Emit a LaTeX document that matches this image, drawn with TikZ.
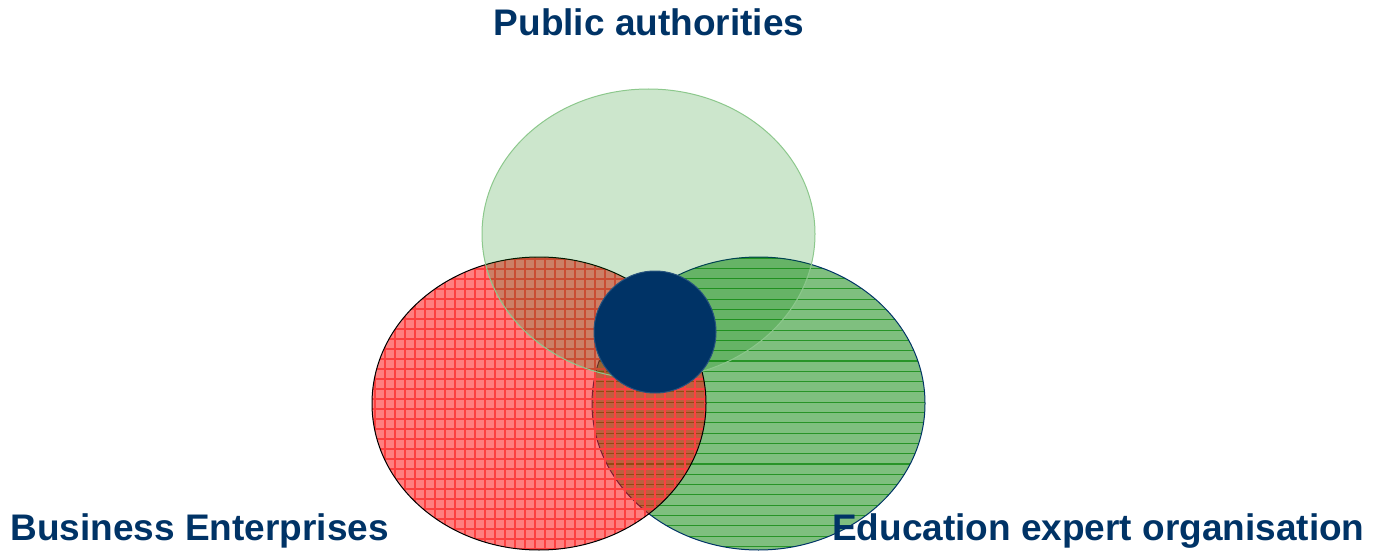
\documentclass[tikz,border=0pt]{standalone}
\usepackage{fontspec}
\setmainfont{Liberation Sans}
\usetikzlibrary{shapes.geometric}
\definecolor{navy}{RGB}{0,51,102}
\definecolor{pgreen}{RGB}{0,128,0}
\definecolor{pred}{RGB}{255,0,0}
\definecolor{redline}{RGB}{252,64,64}
\definecolor{greenline}{RGB}{40,148,40}
\definecolor{topedge}{RGB}{140,200,140}
\begin{document}
\begin{tikzpicture}[x=0.5pt,y=-0.5pt,
  lbl/.style={text=navy, font=\fontsize{18.5}{22}\selectfont\bfseries, inner sep=0pt},
  blob/.style={ellipse, inner sep=0pt, line width=0.5pt},
  hatchline/.style={line width=0.55pt}]
\useasboundingbox (0,0) rectangle (1376,551);
% right ellipse (education)
\node[blob, minimum width=166.5pt, minimum height=146.5pt, fill=pgreen, fill opacity=0.5] (edu) at (758.5,403.5) {};
\begin{scope}
  \clip (edu.center) ellipse [x radius=166.5, y radius=146.5];
  \foreach \yy in {258,268.3,...,552} \draw[hatchline, greenline] (590,\yy) -- (928,\yy);
\end{scope}
\draw[navy, line width=0.5pt] (edu.center) ellipse [x radius=166.5, y radius=146.5];
% left ellipse (business)
\node[blob, minimum width=167pt, minimum height=146.5pt, fill=pred, fill opacity=0.5] (bus) at (539,403.5) {};
\begin{scope}
  \clip (bus.center) ellipse [x radius=167, y radius=146.5];
  \foreach \yy in {259,269,...,552} \draw[hatchline, redline] (370,\yy) -- (708,\yy);
  \foreach \xx in {375,385,...,706} \draw[hatchline, redline] (\xx,255) -- (\xx,552);
\end{scope}
\draw[black, line width=0.5pt] (bus.center) ellipse [x radius=167, y radius=146.5];
% top ellipse (public)
\node[blob, minimum width=166.5pt, minimum height=145pt, fill=pgreen, fill opacity=0.2, draw=topedge, draw opacity=1] (pub) at (648.5,234) {};
% centre circle
\node[circle, inner sep=0pt, minimum size=61pt, fill=navy, draw=navy!85!white, line width=0.5pt] (core) at (655,332) {};
% labels
\node[lbl, anchor=base] (tpub) at (649,36) {Public authorities};
\node[lbl, anchor=base west] (tbus) at (10,540) {Business Enterprises};
\node[lbl, anchor=base east] (tedu) at (1365,540) {Education expert organisation};
\end{tikzpicture}
\end{document}
